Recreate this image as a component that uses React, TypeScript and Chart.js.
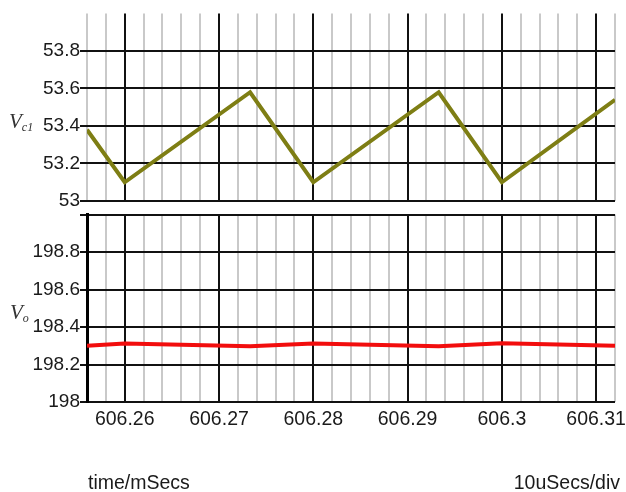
import React, { useEffect, useRef } from 'react';
import { Chart, registerables } from 'chart.js';
Chart.register(...registerables);

// ---- data ----
const vc1Time = [606.256, 606.26, 606.2733, 606.28, 606.2933, 606.3, 606.312];
const vc1Values = [53.38, 53.1, 53.58, 53.1, 53.58, 53.1, 53.54];
const voTime = [606.256, 606.26, 606.2733, 606.28, 606.2933, 606.3, 606.312];
const voValues = [198.3, 198.312, 198.297, 198.312, 198.297, 198.313, 198.3];
const xMajorTicks = [606.26, 606.27, 606.28, 606.29, 606.3, 606.31];
const xMin = 606.256;
const xMax = 606.312;
const xMinorStep = 0.002;
const vc1Ticks = [53, 53.2, 53.4, 53.6, 53.8];
const vc1Range = [53, 54];
const voTicks = [198, 198.2, 198.4, 198.6, 198.8, 199];
const voTickLabels = ['198', '198.2', '198.4', '198.6', '198.8', ''];
const voRange = [198, 199];

const FONT = "'Liberation Sans', Arial, sans-serif";
const isMajor = (v: number) => xMajorTicks.some((m) => Math.abs(m - v) < 1e-6);

function xTickValues() {
  const out: { value: number }[] = [];
  const n = Math.round((xMax - xMin) / xMinorStep);
  for (let i = 0; i <= n; i++) out.push({ value: +(xMin + i * xMinorStep).toFixed(4) });
  return out;
}

function makeChart(canvas: HTMLCanvasElement, which: 'top' | 'bottom') {
  const top = which === 'top';
  const pts = top
    ? vc1Time.map((t, i) => ({ x: t, y: vc1Values[i] }))
    : voTime.map((t, i) => ({ x: t, y: voValues[i] }));
  const yTicks = top ? vc1Ticks : voTicks;
  const yLabels = top ? vc1Ticks.map(String) : voTickLabels;
  const range = top ? vc1Range : voRange;
  return new Chart(canvas, {
    type: 'line',
    data: {
      datasets: [
        {
          data: pts,
          borderColor: top ? '#7e7e14' : '#f20d0d',
          borderWidth: 4,
          pointRadius: 0,
          tension: 0,
          fill: false,
        },
      ],
    },
    options: {
      animation: false,
      responsive: false,
      events: [],
      plugins: { legend: { display: false }, tooltip: { enabled: false } },
      layout: {
        padding: top
          ? { top: 13.5, left: 0, right: 11, bottom: 0 }
          : { top: 19.5, left: 0, right: 11, bottom: 0 },
      },
      scales: {
        x: {
          type: 'linear',
          min: xMin,
          max: xMax,
          afterBuildTicks: (s: any) => {
            s.ticks = xTickValues();
          },
          afterFit: (s: any) => {
            s.height = top ? 29 : 90;
          },
          border: { display: false },
          grid: {
            color: (c: any) => (c.tick && isMajor(c.tick.value) ? '#111' : '#c9c9c9'),
            lineWidth: 2,
            drawTicks: false,
          },
          ticks: {
            display: !top,
            autoSkip: false,
            maxRotation: 0,
            padding: 6,
            color: '#1a1a1a',
            font: { family: FONT, size: 19.5 },
            callback: (v: any) => (isMajor(Number(v)) ? String(Math.round(Number(v) * 100) / 100) : ''),
          },
        },
        y: {
          type: 'linear',
          min: range[0],
          max: range[1],
          afterBuildTicks: (s: any) => {
            s.ticks = yTicks.map((v) => ({ value: v }));
          },
          afterFit: (s: any) => {
            s.width = 87;
          },
          border: top ? { display: false } : { display: true, color: '#000', width: 3 },
          grid: { color: '#111', lineWidth: 2, tickLength: 7, drawTicks: true },
          ticks: {
            padding: 0,
            color: '#1a1a1a',
            font: { family: FONT, size: 19 },
            callback: (v: any) => {
              const i = yTicks.findIndex((t) => Math.abs(t - Number(v)) < 1e-6);
              return i >= 0 ? yLabels[i] : '';
            },
          },
        },
      },
    },
  } as any);
}

export default function App() {
  const topRef = useRef<HTMLCanvasElement>(null);
  const botRef = useRef<HTMLCanvasElement>(null);
  useEffect(() => {
    const a = makeChart(topRef.current!, 'top');
    const b = makeChart(botRef.current!, 'bottom');
    return () => {
      a.destroy();
      b.destroy();
    };
  }, []);
  const vStyle: React.CSSProperties = {
    position: 'absolute',
    fontFamily: "'Liberation Serif', 'Times New Roman', serif",
    fontStyle: 'italic',
    fontSize: 21,
    color: '#333',
    lineHeight: '22px',
    whiteSpace: 'nowrap',
  };
  const subStyle: React.CSSProperties = { fontSize: 12, verticalAlign: 'baseline', position: 'relative', top: 3 };
  const txt: React.CSSProperties = {
    position: 'absolute',
    fontFamily: FONT,
    fontSize: 19.5,
    color: '#1a1a1a',
    lineHeight: '22px',
    whiteSpace: 'nowrap',
  };
  return (
    <div style={{ position: 'fixed', left: 0, top: 0, width: 626, height: 492, background: '#fff' }}>
      <canvas ref={topRef} width={626} height={230} style={{ position: 'absolute', left: 0, top: 0 }} />
      <canvas ref={botRef} width={626} height={297} style={{ position: 'absolute', left: 0, top: 195 }} />
      <div style={{ ...vStyle, left: 9, top: 110 }}>
        V<span style={subStyle}>c1</span>
      </div>
      <div style={{ ...vStyle, left: 10, top: 301 }}>
        V<span style={subStyle}>o</span>
      </div>
      <div style={{ ...txt, left: 88, top: 471 }}>time/mSecs</div>
      <div style={{ ...txt, right: 6, top: 471 }}>10uSecs/div</div>
    </div>
  );
}
